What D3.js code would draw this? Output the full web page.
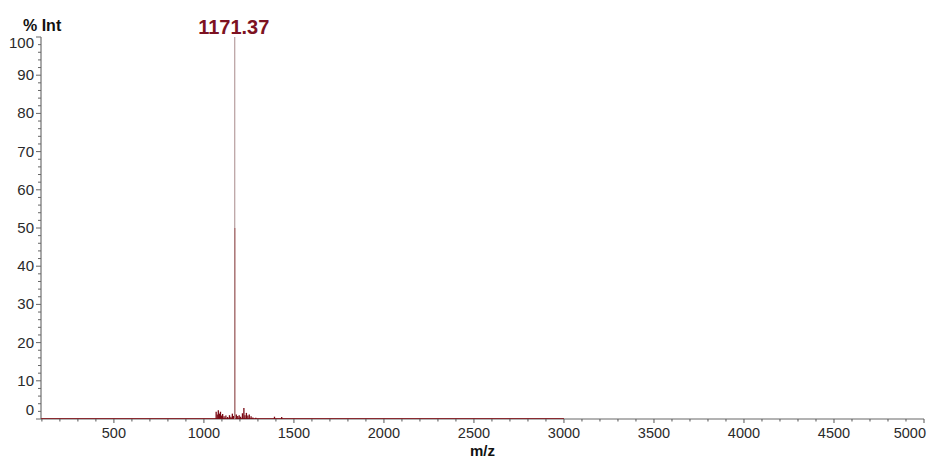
<!DOCTYPE html>
<html>
<head>
<meta charset="utf-8">
<script src="https://cdn.jsdelivr.net/npm/d3@7"></script>
<style>
  html, body { margin: 0; padding: 0; background: #fff; }
  svg { display: block; font-family: Arial, "Liberation Sans", sans-serif; }
</style>
</head>
<body>
<svg id="chart" width="927" height="460"></svg>
<script>
// ---- data ----
const mzValues = [1068, 1074, 1080, 1086, 1092, 1098, 1104, 1112, 1122, 1132, 1142, 1150, 1158, 1164,
                  1170.9, 1171.37, 1180, 1188, 1196, 1204, 1214, 1222, 1228, 1236, 1244, 1252, 1262, 1272, 1288, 1392, 1432];
const intensities = [1.9, 1.2, 2.3, 1.4, 1.9, 0.9, 1.3, 0.7, 0.9, 0.5, 1.0, 0.6, 1.4, 0.8,
                     50, 100, 1.2, 0.8, 1.0, 0.6, 1.5, 2.9, 1.0, 1.6, 0.9, 1.2, 0.7, 0.4, 0.3, 0.6, 0.5];
const spectrumRange = [95, 3000];
const xTicks = [500, 1000, 1500, 2000, 2500, 3000, 3500, 4000, 4500, 5000];
const yTicks = [0, 10, 20, 30, 40, 50, 60, 70, 80, 90, 100];
const peakLabel = "1171.37";
const peakMz = 1171.37;

// ---- layout ----
const svg = d3.select("#chart");
const x = d3.scaleLinear().domain([95, 5000]).range([41, 924]);
const y = d3.scaleLinear().domain([0, 100]).range([419, 37]);

// x axis
const xAxisG = svg.append("g").attr("transform", `translate(0,${y(0)})`);
xAxisG.append("line").attr("x1", x.range()[0]).attr("x2", x.range()[1])
  .attr("stroke", "#666").attr("stroke-width", 1);
const xMinor = d3.range(100, 5001, 100);
xAxisG.selectAll("line.minor").data(xMinor).join("line")
  .attr("class", "minor")
  .attr("x1", d => x(d)).attr("x2", d => x(d))
  .attr("y1", 0).attr("y2", d => d % 500 === 0 ? 4 : 2.5)
  .attr("stroke", "#555").attr("stroke-width", 1);
xAxisG.selectAll("text").data(xTicks).join("text")
  .attr("x", d => d === 5000 ? x(d) + 2 : x(d))
  .attr("y", 19)
  .attr("text-anchor", d => d === 5000 ? "end" : "middle")
  .attr("font-size", 14.5).attr("fill", "#2a2a2a")
  .text(d => d);

// y axis
const yAxisG = svg.append("g").attr("transform", `translate(${x.range()[0]},0)`);
yAxisG.append("line").attr("y1", y(0)).attr("y2", y(100))
  .attr("stroke", "#555").attr("stroke-width", 1);
const yMinor = d3.range(0, 101, 2);
yAxisG.selectAll("line.minor").data(yMinor).join("line")
  .attr("class", "minor")
  .attr("y1", d => y(d)).attr("y2", d => y(d))
  .attr("x1", 0).attr("x2", d => d % 10 === 0 ? -5 : -3)
  .attr("stroke", "#666").attr("stroke-width", 1);
yAxisG.selectAll("text").data(yTicks).join("text")
  .attr("x", -7)
  .attr("y", d => d === 100 ? y(d) + 11 : d === 0 ? y(d) - 4 : y(d) + 5)
  .attr("text-anchor", "end")
  .attr("font-size", 15).attr("fill", "#2a2a2a")
  .text(d => d);

// axis titles
svg.append("text").attr("x", 23).attr("y", 31)
  .attr("font-size", 16).attr("font-weight", "bold").attr("fill", "#111")
  .text("% Int");
svg.append("text").attr("x", (x(95) + x(5000)) / 2).attr("y", 456)
  .attr("text-anchor", "middle")
  .attr("font-size", 15).attr("font-weight", "bold").attr("fill", "#111")
  .text("m/z");

// spectrum baseline
svg.append("line")
  .attr("x1", x(spectrumRange[0])).attr("x2", x(spectrumRange[1]))
  .attr("y1", y(0) - 0.5).attr("y2", y(0) - 0.5)
  .attr("stroke", "#8a2a30").attr("stroke-width", 1.2);

// peaks (sticks)
const peaks = mzValues.map((m, i) => ({ m, v: intensities[i] }));
svg.selectAll("line.peak").data(peaks).join("line")
  .attr("class", "peak")
  .attr("x1", d => x(d.m)).attr("x2", d => x(d.m))
  .attr("y1", y(0)).attr("y2", d => y(d.v))
  .attr("stroke", d => d.v >= 100 ? "#a88a8c" : d.v >= 40 ? "#b05050" : "#7a0a14")
  .attr("stroke-width", d => d.v >= 100 ? 1 : d.v >= 40 ? 1.4 : 1.3);

// peak label
svg.append("text").attr("x", x(peakMz) - 1).attr("y", 34)
  .attr("text-anchor", "middle")
  .attr("font-size", 20).attr("font-weight", "bold").attr("fill", "#7d1222")
  .text(peakLabel);
</script>
</body>
</html>
